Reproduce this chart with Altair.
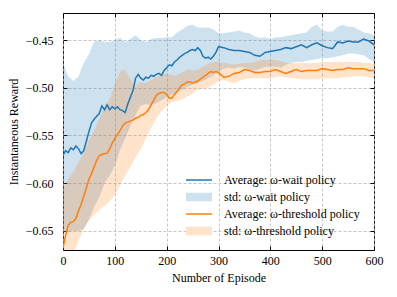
import altair as alt
import pandas as pd

# ---------------- data ----------------
ep_mean = list(range(0, 300, 5)) + list(range(300, 601, 10))

wait_mean = [
    -0.571, -0.566, -0.568, -0.563, -0.565, -0.561, -0.564, -0.569, -0.566, -0.556,
    -0.546, -0.537, -0.533, -0.530, -0.527, -0.519, -0.523, -0.518, -0.523, -0.520,
    -0.522, -0.520, -0.523, -0.524, -0.526, -0.517, -0.510, -0.503, -0.490, -0.486,
    -0.490, -0.492, -0.489, -0.490, -0.487, -0.488, -0.486, -0.485, -0.487, -0.482,
    -0.479, -0.476, -0.477, -0.473, -0.471, -0.468, -0.466, -0.464, -0.463, -0.461,
    -0.460, -0.461, -0.458, -0.461, -0.467, -0.469, -0.468, -0.470, -0.467, -0.463,
    -0.457, -0.458, -0.460, -0.461, -0.461, -0.462, -0.463, -0.466, -0.467, -0.463,
    -0.462, -0.461, -0.460, -0.458, -0.459, -0.457, -0.455, -0.458, -0.455, -0.453,
    -0.456, -0.458, -0.459, -0.452, -0.453, -0.451, -0.452, -0.452, -0.449, -0.451,
    -0.455,
]

thr_mean = [
    -0.668, -0.655, -0.644, -0.641, -0.640, -0.637, -0.629, -0.622, -0.614, -0.605,
    -0.596, -0.590, -0.583, -0.576, -0.571, -0.570, -0.569, -0.569, -0.564, -0.558,
    -0.553, -0.549, -0.545, -0.540, -0.537, -0.536, -0.535, -0.534, -0.532, -0.531,
    -0.529, -0.528, -0.526, -0.523, -0.518, -0.513, -0.508, -0.506, -0.505, -0.505,
    -0.507, -0.511, -0.511, -0.507, -0.504, -0.500, -0.497, -0.496, -0.494, -0.494,
    -0.495, -0.494, -0.493, -0.491, -0.489, -0.487, -0.485, -0.483, -0.484, -0.483,
    -0.484, -0.489, -0.488, -0.485, -0.484, -0.481, -0.482, -0.484, -0.484, -0.483,
    -0.483, -0.481, -0.483, -0.485, -0.483, -0.481, -0.483, -0.482, -0.482, -0.482,
    -0.480, -0.481, -0.482, -0.481, -0.481, -0.479, -0.480, -0.480, -0.480, -0.482,
    -0.482,
]

ep_band = list(range(0, 601, 10))

wait_hi = [
    -0.474, -0.488, -0.493, -0.488, -0.474, -0.465, -0.452, -0.450, -0.452, -0.452,
    -0.450, -0.448, -0.452, -0.449, -0.445, -0.450, -0.452, -0.449, -0.448, -0.448,
    -0.447, -0.447, -0.442, -0.439, -0.435, -0.434, -0.437, -0.437, -0.437, -0.439,
    -0.443, -0.443, -0.442, -0.441, -0.440, -0.442, -0.443, -0.446, -0.448, -0.447,
    -0.449, -0.447, -0.447, -0.446, -0.445, -0.444, -0.443, -0.442, -0.436, -0.434,
    -0.440, -0.441, -0.441, -0.436, -0.434, -0.436, -0.436, -0.439, -0.442, -0.443,
    -0.445,
]
wait_lo = [
    -0.652, -0.651, -0.650, -0.650, -0.648, -0.638, -0.625, -0.615, -0.600, -0.592,
    -0.582, -0.565, -0.553, -0.540, -0.528, -0.519, -0.517, -0.518, -0.516, -0.513,
    -0.510, -0.507, -0.505, -0.502, -0.499, -0.497, -0.495, -0.493, -0.490, -0.487,
    -0.483, -0.480, -0.479, -0.480, -0.478, -0.479, -0.481, -0.482, -0.480, -0.478,
    -0.478, -0.478, -0.479, -0.476, -0.474, -0.473, -0.473, -0.472, -0.471, -0.470,
    -0.469, -0.469, -0.468, -0.467, -0.466, -0.464, -0.464, -0.465, -0.466, -0.470,
    -0.473,
]
thr_hi = [
    -0.605, -0.596, -0.588, -0.578, -0.568, -0.555, -0.545, -0.532, -0.521, -0.512,
    -0.496, -0.483, -0.481, -0.491, -0.498, -0.494, -0.495, -0.492, -0.489, -0.486,
    -0.485, -0.487, -0.487, -0.484, -0.481, -0.482, -0.481, -0.478, -0.475, -0.473,
    -0.473, -0.474, -0.475, -0.476, -0.475, -0.474, -0.474, -0.473, -0.471, -0.471,
    -0.471, -0.471, -0.472, -0.474, -0.474, -0.474, -0.474, -0.474, -0.474, -0.474,
    -0.473, -0.473, -0.473, -0.473, -0.473, -0.473, -0.473, -0.473, -0.474, -0.474,
    -0.475,
]
thr_lo = [
    -0.700, -0.690, -0.675, -0.660, -0.648, -0.639, -0.633, -0.628, -0.624, -0.619,
    -0.612, -0.602, -0.592, -0.583, -0.573, -0.564, -0.553, -0.542, -0.532, -0.525,
    -0.519, -0.515, -0.514, -0.512, -0.509, -0.506, -0.502, -0.501, -0.500, -0.497,
    -0.493, -0.492, -0.494, -0.495, -0.493, -0.491, -0.490, -0.490, -0.490, -0.490,
    -0.490, -0.489, -0.488, -0.489, -0.490, -0.490, -0.491, -0.491, -0.491, -0.491,
    -0.490, -0.490, -0.490, -0.490, -0.489, -0.489, -0.488, -0.488, -0.488, -0.489,
    -0.490,
]

legend_labels = [
    "Average: \u03c9-wait policy",
    "std: \u03c9-wait policy",
    "Average: \u03c9-threshold policy",
    "std: \u03c9-threshold policy",
]
x_ticks = [0, 100, 200, 300, 400, 500, 600]
y_ticks = [-0.65, -0.60, -0.55, -0.50, -0.45]

# ---------------- styling ----------------
BLUE = "#1f77b4"
ORANGE = "#ff7f0e"
FONT = "'Liberation Serif', 'Times New Roman', Times, serif"
FS = 12
W, H = 311, 237

df_mean = pd.DataFrame({"ep": ep_mean, "wait": wait_mean, "thr": thr_mean})
df_band = pd.DataFrame({"ep": ep_band, "wait_lo": wait_lo, "wait_hi": wait_hi,
                        "thr_lo": thr_lo, "thr_hi": thr_hi})
df_leg = pd.DataFrame({"ep": [0, 0, 0, 0], "val": [-1.0] * 4, "series": legend_labels})

xs = alt.Scale(domain=[0, 600], nice=False, zero=False)
ys = alt.Scale(domain=[-0.670, -0.4217], nice=False, zero=False)

x_bottom = alt.Axis(values=x_ticks, orient="bottom", offset=-4, tickSize=4, domain=False,
                    labelPadding=5, labelFlush=False, grid=True, gridDash=[3, 2],
                    gridColor="#b8b8b8", gridWidth=0.8,
                    title="Number of Episode", titlePadding=6)
y_left = alt.Axis(values=y_ticks, orient="left", offset=-4, tickSize=4, domain=False,
                  labelPadding=10, labelFlush=False, format=".2f", grid=True,
                  gridDash=[3, 2], gridColor="#b8b8b8", gridWidth=0.8,
                  title="Instantaneous Reward", titlePadding=5)
x_top = alt.Axis(values=x_ticks, orient="top", offset=-4, tickSize=4, domain=False,
                 labels=False, grid=False, title=None)
y_right = alt.Axis(values=y_ticks, orient="right", offset=-4, tickSize=4, domain=False,
                   labels=False, grid=False, title=None)

band_wait = alt.Chart(df_band).mark_area(color=BLUE, opacity=0.22, clip=True).encode(
    x=alt.X("ep:Q", scale=xs, axis=x_bottom),
    y=alt.Y("wait_lo:Q", scale=ys, axis=y_left),
    y2="wait_hi:Q",
)
band_thr = alt.Chart(df_band).mark_area(color=ORANGE, opacity=0.22, clip=True).encode(
    x=alt.X("ep:Q", scale=xs, axis=None),
    y=alt.Y("thr_lo:Q", scale=ys, axis=None),
    y2="thr_hi:Q",
)
line_wait = alt.Chart(df_mean).mark_line(color=BLUE, strokeWidth=1.5, clip=True).encode(
    x=alt.X("ep:Q", scale=xs, axis=None),
    y=alt.Y("wait:Q", scale=ys, axis=None),
)
line_thr = alt.Chart(df_mean).mark_line(color=ORANGE, strokeWidth=1.5, clip=True).encode(
    x=alt.X("ep:Q", scale=xs, axis=None),
    y=alt.Y("thr:Q", scale=ys, axis=None),
)

# symbol size 100 -> unit radius 5px; paths are 26px wide
line_path = "M-2.6,-0.15H2.6V0.15H-2.6Z"
patch_path = "M-2.6,-0.85H2.6V0.85H-2.6Z"
leg = alt.Legend(title=None, orient="none", legendX=130, legendY=161, symbolSize=100,
                 symbolStrokeWidth=0, symbolOpacity=1, labelFont=FONT, labelFontSize=FS,
                 labelColor="black", labelOffset=19, rowPadding=5, padding=0,
                 labelLimit=300)
legend_layer = alt.Chart(df_leg).mark_point(filled=True, opacity=1, clip=True).encode(
    x=alt.X("ep:Q", scale=xs, axis=x_top),
    y=alt.Y("val:Q", scale=ys, axis=y_right),
    color=alt.Color("series:N", sort=legend_labels,
                    scale=alt.Scale(domain=legend_labels,
                                    range=[BLUE, "#cee1ee", ORANGE, "#ffe3ca"]),
                    legend=leg),
    shape=alt.Shape("series:N", sort=legend_labels,
                    scale=alt.Scale(domain=legend_labels,
                                    range=[line_path, patch_path, line_path, patch_path]),
                    legend=leg),
)

chart = alt.layer(band_wait, band_thr, line_wait, line_thr, legend_layer).resolve_axis(
    x="independent", y="independent"
).properties(
    width=W, height=H,
    autosize=alt.AutoSizeParams(type="none"),
    padding={"left": 55, "top": 5, "right": 15, "bottom": 39},
).configure_view(
    stroke="black", strokeWidth=1
).configure_axis(
    labelFont=FONT, labelFontSize=FS, labelColor="black",
    titleFont=FONT, titleFontSize=FS, titleFontWeight="normal", titleColor="black",
    tickColor="black", tickWidth=1,
)

chart.save("out.html", embed_options={"renderer": "svg", "actions": False})
